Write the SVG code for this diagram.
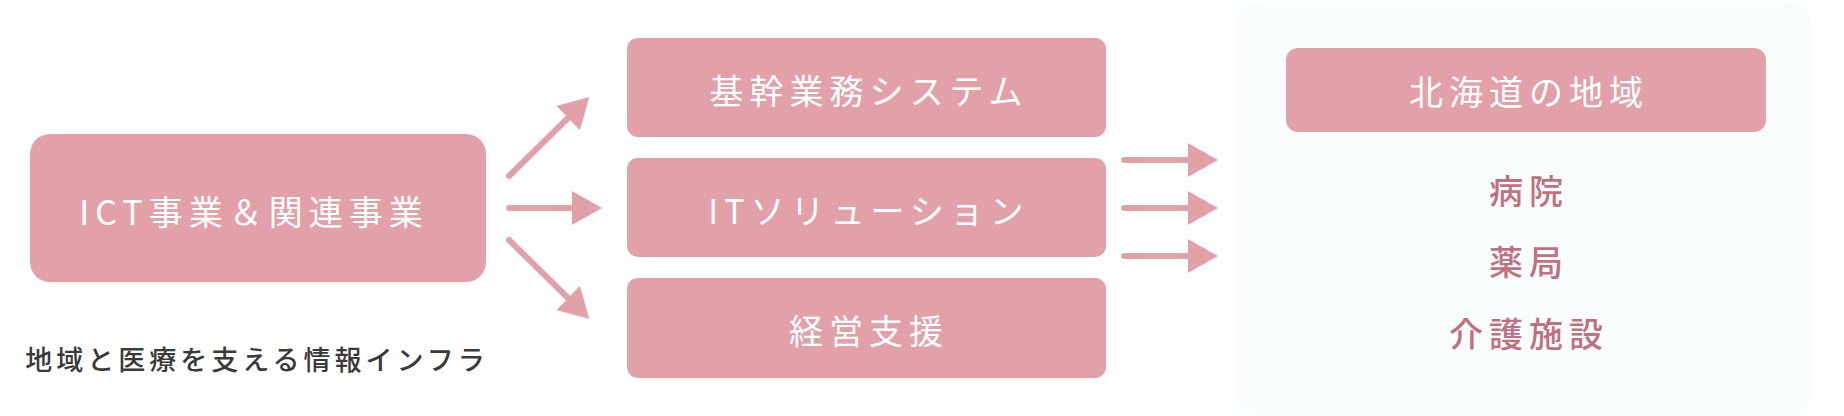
<svg xmlns="http://www.w3.org/2000/svg" width="1844" height="416" viewBox="0 0 1844 416">
<style>
.box{fill:#e2a0a9}
.wt{fill:#ffffff;font-family:"Noto Sans CJK JP","Noto Sans",sans-serif;font-size:34px;letter-spacing:6px;text-anchor:middle}
.pk{fill:#c0717f;font-family:"Noto Sans CJK JP","Noto Sans",sans-serif;font-size:34px;font-weight:500;letter-spacing:6px;text-anchor:middle}
.sub{fill:#3a3a3a;font-family:"Noto Sans CJK JP","Noto Sans",sans-serif;font-size:27px;font-weight:500;letter-spacing:4px;text-anchor:middle}
.arr{stroke:#e2a0a9;stroke-width:6;stroke-linecap:round;fill:none;marker-end:url(#head)}
</style>
<defs>
<marker id="head" viewBox="0 0 30 34" refX="0" refY="17" markerWidth="30" markerHeight="34" markerUnits="userSpaceOnUse" orient="auto">
<path d="M0,0 L30,17 L0,34 Z" fill="#e2a0a9"/>
</marker>
</defs>
<rect width="1844" height="416" fill="#ffffff"/>
<g id="region-panel">
<rect x="1237" y="2" width="575" height="414" rx="24" fill="#fafdfe"/>
</g>
<g id="ict">
<rect class="box" x="30" y="134" width="456" height="148" rx="20"/>
<text class="wt" x="254" y="225">ICT事業＆関連事業</text>
</g>
<g id="caption">
<text class="sub" x="257" y="370">地域と医療を支える情報インフラ</text>
</g>
<g id="kikan">
<rect class="box" x="627" y="38" width="479" height="99" rx="11"/>
<text class="wt" x="869" y="104">基幹業務システム</text>
</g>
<g id="it-solution">
<rect class="box" x="627" y="158" width="479" height="99" rx="11"/>
<text class="wt" x="869" y="224">ITソリューション</text>
</g>
<g id="keiei">
<rect class="box" x="627" y="278" width="479" height="100" rx="11"/>
<text class="wt" x="869" y="344">経営支援</text>
</g>
<g id="hokkaido">
<rect class="box" x="1286" y="48" width="480" height="84" rx="12"/>
<text class="wt" x="1529" y="105">北海道の地域</text>
</g>
<g id="targets">
<text class="pk" x="1529" y="204">病院</text>
<text class="pk" x="1529" y="275">薬局</text>
<text class="pk" x="1529" y="347">介護施設</text>
</g>
<g id="connectors">
<line class="arr" x1="509" y1="176" x2="568" y2="118"/>
<line class="arr" x1="509" y1="208" x2="572" y2="208"/>
<line class="arr" x1="509" y1="240" x2="568" y2="298"/>
<line class="arr" x1="1124" y1="160" x2="1188" y2="160"/>
<line class="arr" x1="1124" y1="208" x2="1188" y2="208"/>
<line class="arr" x1="1124" y1="256" x2="1188" y2="256"/>
</g>
</svg>
